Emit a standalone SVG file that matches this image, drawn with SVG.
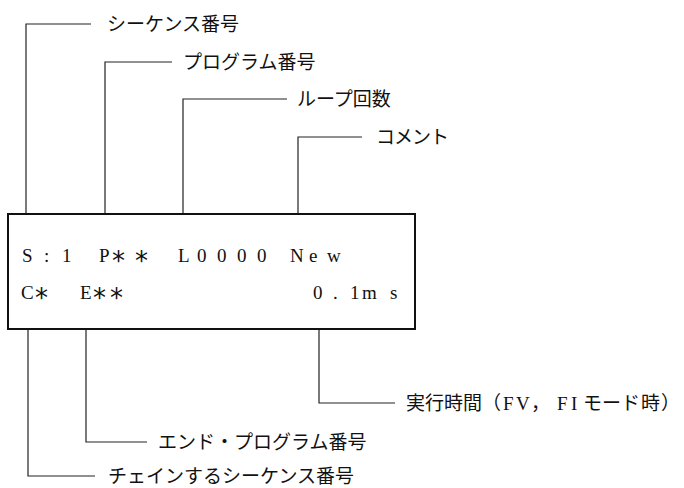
<svg xmlns="http://www.w3.org/2000/svg" width="684" height="488" viewBox="0 0 684 488">
<style>
.bg{fill:#fff}
.ln{fill:none;stroke:#222;stroke-width:1.2}
.box{fill:#fff;stroke:#111;stroke-width:2}
.jp{font-family:"Noto Sans CJK JP","Noto Sans",sans-serif;font-size:19px;fill:#111}
.ser{font-family:"Liberation Serif",serif;font-size:19px;fill:#111}
.lcd{font-family:"Liberation Serif",serif;font-size:19px;fill:#111}
.ast{font-family:"DejaVu Sans",sans-serif;font-size:26px}
</style>
<rect class="bg" x="0" y="0" width="684" height="488"/>
<g id="connectors">
<path class="ln" d="M26,214 V24 H91"/>
<path class="ln" d="M105,214 V62 H172"/>
<path class="ln" d="M183,214 V99 H287"/>
<path class="ln" d="M298,214 V137 H362"/>
<path class="ln" d="M28,330 V476 H95"/>
<path class="ln" d="M86,330 V442 H147"/>
<path class="ln" d="M319,330 V403 H395"/>
</g>
<g id="display">
<rect class="box" x="8" y="214" width="407" height="115"/>
<text class="lcd" y="262"><tspan x="22">S</tspan><tspan x="44">:</tspan><tspan x="62">1</tspan><tspan x="99">P</tspan><tspan class="ast" x="112" y="270">*</tspan><tspan class="ast" x="135" y="270">*</tspan><tspan x="178" y="262">L</tspan><tspan x="197">0</tspan><tspan x="217">0</tspan><tspan x="237">0</tspan><tspan x="257">0</tspan><tspan x="290">N</tspan><tspan x="309">e</tspan><tspan x="327">w</tspan></text>
<text class="lcd" y="299"><tspan x="21">C</tspan><tspan class="ast" x="35" y="307">*</tspan><tspan x="80" y="299">E</tspan><tspan class="ast" x="93" y="307">*</tspan><tspan class="ast" x="110" y="307">*</tspan><tspan x="313" y="299">0</tspan><tspan x="333">.</tspan><tspan x="350">1</tspan><tspan x="362">m</tspan><tspan x="390">s</tspan></text>
</g>
<g id="label-sequence"><text class="jp" x="107" y="31">シーケンス番号</text></g>
<g id="label-program"><text class="jp" x="183" y="69">プログラム番号</text></g>
<g id="label-loop"><text class="jp" x="297" y="106">ループ回数</text></g>
<g id="label-comment"><text class="jp" x="376" y="144" letter-spacing="-1">コメント</text></g>
<g id="label-time"><text class="jp" y="410"><tspan x="406">実行時間（</tspan><tspan class="ser" x="503">F</tspan><tspan class="ser" x="516">V</tspan><tspan x="531">，</tspan><tspan class="ser" x="557">F</tspan><tspan class="ser" x="571">I</tspan><tspan x="583">モ</tspan><tspan x="602">ー</tspan><tspan x="621">ド</tspan><tspan x="641">時</tspan><tspan x="661">）</tspan></text></g>
<g id="label-end"><text class="jp" x="158" y="449">エンド・プログラム番号</text></g>
<g id="label-chain"><text class="jp" x="108" y="483">チェインするシーケンス番号</text></g>
</svg>
